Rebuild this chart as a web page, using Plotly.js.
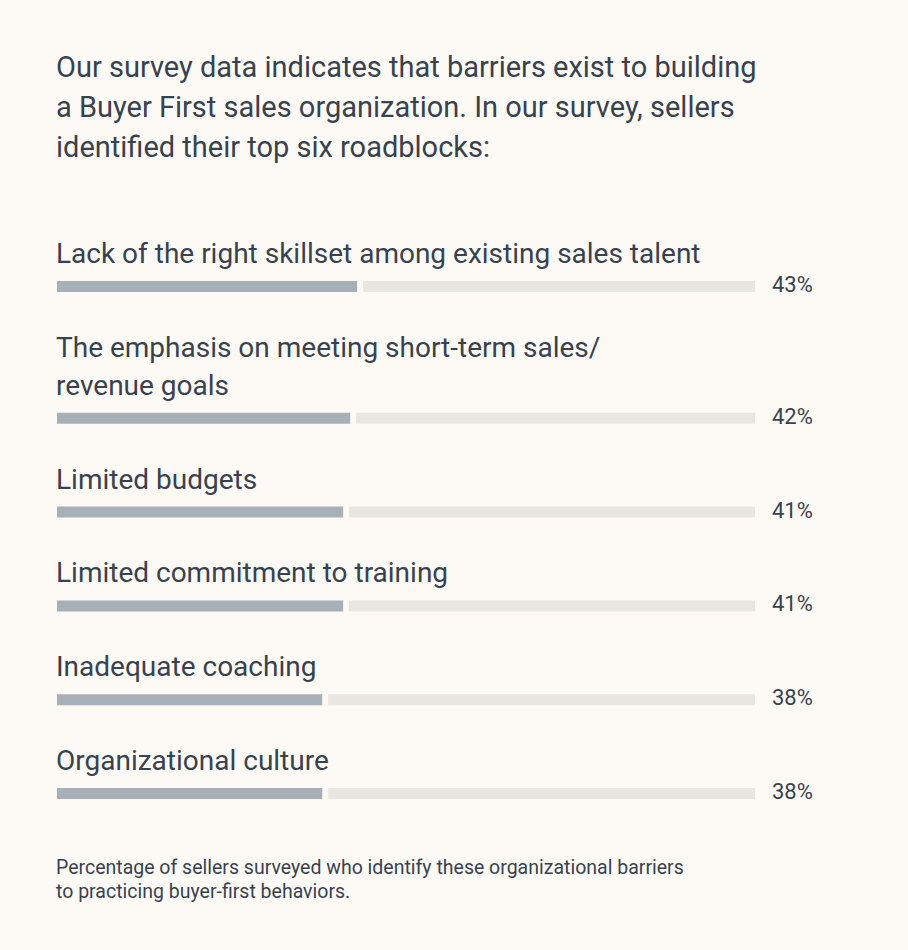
<!DOCTYPE html>
<html>
<head>
<meta charset="utf-8">
<script src="https://cdn.plot.ly/plotly-3.0.1.min.js"></script>
<style>
  html, body { margin: 0; padding: 0; background: #fdfaf5; }
  #chart { width: 908px; height: 950px; }
</style>
</head>
<body>
<div id="chart"></div>
<script>
// ---- Data ----
const titleLines = [
  "Our survey data indicates that barriers exist to building",
  "a Buyer First sales organization. In our survey, sellers",
  "identified their top six roadblocks:"
];
const categories = [
  ["Lack of the right skillset among existing sales talent"],
  ["The emphasis on meeting short-term sales/", "revenue goals"],
  ["Limited budgets"],
  ["Limited commitment to training"],
  ["Inadequate coaching"],
  ["Organizational culture"]
];
const values = [43, 42, 41, 41, 38, 38];
const footnoteLines = [
  "Percentage of sellers surveyed who identify these organizational barriers",
  "to practicing buyer-first behaviors."
];

// ---- Layout helpers (pixel-unit y axis) ----
const FONT = "Roboto, 'Noto Sans', sans-serif";
const TEXT = "#38424f";
const firstBar = 286.5, rowGap = 93.8, lineGap = 38, barH = 11, gap = 0.85;

const centers = [];
let extra = 0;
categories.forEach((c, i) => {
  extra += c.length - 1;
  centers.push(firstBar + i * rowGap + extra * lineGap);
});

const filled = {
  type: "bar", orientation: "h",
  x: values, y: centers, base: 0, width: barH,
  marker: { color: "#a6b0b6" }, hoverinfo: "skip"
};
const rest = {
  type: "bar", orientation: "h",
  x: values.map(v => 100 - v - gap), y: centers,
  base: values.map(v => v + gap), width: barH,
  marker: { color: "#e8e6e1" }, hoverinfo: "skip"
};

const annotations = [];
titleLines.forEach((t, i) => {
  annotations.push({
    xref: "x", yref: "y", x: 0, y: 86 + i * 40, xanchor: "left", yanchor: "bottom",
    text: t, showarrow: false, align: "left",
    font: { family: FONT, size: 29, color: TEXT }, xshift: -3
  });
});
categories.forEach((c, i) => {
  const nLines = c.length;
  c.forEach((line, j) => {
    annotations.push({
      xref: "x", yref: "y", x: 0,
      y: centers[i] - barH / 2 - 9 - (nLines - 1 - j) * lineGap,
      xanchor: "left", yanchor: "bottom",
      text: line, showarrow: false, align: "left",
      font: { family: FONT, size: 28, color: TEXT }, xshift: -3
    });
  });
  annotations.push({
    xref: "paper", yref: "y", x: 1 + 57 / 698, y: centers[i] + barH / 2 + 7,
    xanchor: "right", yanchor: "bottom",
    text: values[i] + "%", showarrow: false,
    font: { family: FONT, size: 22, color: TEXT }, xshift: 3
  });
});
footnoteLines.forEach((t, i) => {
  annotations.push({
    xref: "x", yref: "y", x: 0, y: 881 + i * 24, xanchor: "left", yanchor: "bottom",
    text: t, showarrow: false, align: "left",
    font: { family: FONT, size: 19.5, color: TEXT }, xshift: -3
  });
});

const layout = {
  width: 908, height: 950,
  margin: { l: 57, r: 153, t: 0, b: 0, pad: 0 },
  paper_bgcolor: "#fdfaf5", plot_bgcolor: "#fdfaf5",
  barmode: "overlay", showlegend: false,
  xaxis: { range: [0, 100], visible: false, fixedrange: true },
  yaxis: { range: [950, 0], visible: false, fixedrange: true },
  annotations: annotations
};

Plotly.newPlot("chart", [filled, rest], layout, { displayModeBar: false, staticPlot: true });
</script>
</body>
</html>
